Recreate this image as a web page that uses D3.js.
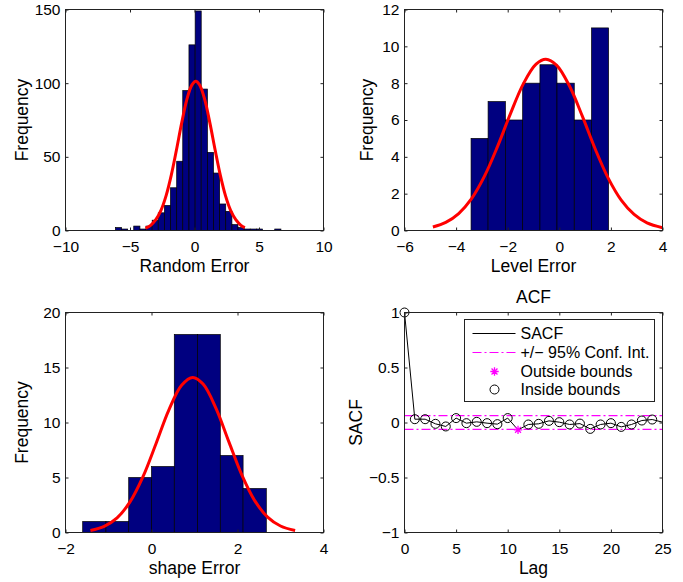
<!DOCTYPE html>
<html>
<head>
<meta charset="utf-8">
<script src="https://cdn.jsdelivr.net/npm/d3@7"></script>
<style>
body { margin: 0; background: #fff; }
svg text { font-family: "Liberation Sans", Arial, sans-serif; fill: #000; }
</style>
</head>
<body>
<div id="chart"></div>
<script>
// ---- data ----
var randomEdges = [-6.13, -5.66, -5.18, -4.71, -4.23, -3.76, -3.28, -2.81, -2.33, -1.86, -1.38, -0.91, -0.43, 0.05,
                   0.52, 1.00, 1.47, 1.95, 2.42, 2.90, 3.37, 3.85, 4.32, 4.80, 5.27, 5.75, 6.22, 6.70];
var randomCounts = [2, 1, 0, 3, 1, 3, 7, 12, 17, 29, 47, 95, 126, 149, 96, 53, 39, 18, 13, 4, 2, 1, 1, 1, 0, 0, 1];
var randomFitX = [-3.8, -3.4, -3.0, -2.6, -2.2, -1.8, -1.4, -1.0, -0.6, -0.2, 0.1, 0.4, 0.8, 1.2, 1.6, 2.0, 2.4, 2.8, 3.2, 3.6, 3.9];
var randomFitY = [1.6, 3.5, 7.3, 13.7, 23.7, 37.6, 54.6, 72.7, 88.6, 98.8, 101.3, 98.8, 88.6, 72.7, 54.6, 37.6, 23.7, 13.7, 7.3, 3.5, 1.9];

var levelEdges = [-3.42, -2.76, -2.09, -1.42, -0.75, -0.09, 0.58, 1.25, 1.91];
var levelCounts = [5, 7, 6, 8, 9, 8, 6, 11];
var levelFitX = [-4.9, -4.4, -3.9, -3.4, -2.9, -2.4, -1.9, -1.4, -0.9, -0.52, -0.1, 0.4, 0.9, 1.4, 1.9, 2.4, 2.9, 3.4, 4.0];
var levelFitY = [0.19, 0.44, 0.92, 1.73, 2.95, 4.54, 6.32, 7.95, 9.03, 9.3, 8.97, 7.83, 6.18, 4.40, 2.83, 1.65, 0.87, 0.41, 0.15];

var shapeEdges = [-1.60, -1.06, -0.53, 0.00, 0.53, 1.07, 1.60, 2.13, 2.67];
var shapeCounts = [1, 1, 5, 6, 18, 18, 7, 4];
var shapeFitX = [-1.42, -1.1, -0.8, -0.5, -0.2, 0.1, 0.4, 0.7, 0.96, 1.2, 1.5, 1.8, 2.1, 2.4, 2.7, 3.0, 3.34];
var shapeFitY = [0.19, 0.56, 1.33, 2.78, 5.05, 8.02, 11.10, 13.39, 14.1, 13.49, 11.29, 8.24, 5.24, 2.90, 1.40, 0.59, 0.19];

var acfLags = [0, 1, 2, 3, 4, 5, 6, 7, 8, 9, 10, 11, 12, 13, 14, 15, 16, 17, 18, 19, 20, 21, 22, 23, 24, 25];
var acfValues = [1, 0.03, 0.03, -0.012, -0.036, 0.04, -0.006, 0.006, -0.006, -0.015, 0.04, -0.067, -0.018, -0.012,
                 0.015, 0.003, -0.018, -0.01, -0.058, -0.018, -0.006, -0.04, -0.018, 0.018, 0.027, 0.003];
var acfMarkedLags = 24;   // markers drawn for lags 0..24
var confBound = 0.062;

var legendLabels = ["SACF", "+/\u2212 95% Conf. Int.", "Outside bounds", "Inside bounds"];

// ---- page ----
var W = 683, H = 582;
var navy = "#000080", red = "#ff0000", magenta = "#ff00ff";
var tickFont = "15.5px", labelFont = "17.5px";
var fmt = d3.format("~g"); // 1, 0.5, -1 like matlab

var svg = d3.select("#chart").append("svg")
    .attr("width", W)
    .attr("height", H);

// one set of axes, matlab style (box on, ticks inward on all 4 sides)
function makeAxes(box, xDom, yDom, xTicks, yTicks, xLabel, yLabel, yLabelOff) {
    var x = d3.scaleLinear().domain(xDom).range([box.l, box.r]);
    var y = d3.scaleLinear().domain(yDom).range([box.b, box.t]);
    var g = svg.append("g");
    var plot = g.append("g");
    var ax = g.append("g");

    ax.append("g")
        .attr("transform", "translate(0," + box.b + ")")
        .call(d3.axisBottom(x).tickValues(xTicks).tickFormat(fmt).tickSize(-3).tickSizeOuter(0).tickPadding(10));
    ax.append("g")
        .attr("transform", "translate(0," + box.t + ")")
        .call(d3.axisTop(x).tickValues(xTicks).tickSize(-3).tickSizeOuter(0).tickFormat(""));
    ax.append("g")
        .attr("transform", "translate(" + box.l + ",0)")
        .call(d3.axisLeft(y).tickValues(yTicks).tickFormat(fmt).tickSize(-3).tickSizeOuter(0).tickPadding(5));
    ax.append("g")
        .attr("transform", "translate(" + box.r + ",0)")
        .call(d3.axisRight(y).tickValues(yTicks).tickSize(-3).tickSizeOuter(0).tickFormat(""));

    ax.selectAll(".domain").remove();
    ax.selectAll(".tick line").attr("stroke", "#222");
    ax.selectAll(".tick text")
        .style("font-size", tickFont)
        .style("font-family", "'Liberation Sans', Arial, sans-serif");

    ax.append("rect")
        .attr("x", box.l).attr("y", box.t)
        .attr("width", box.r - box.l).attr("height", box.b - box.t)
        .attr("fill", "none")
        .attr("stroke", "#222")
        .attr("stroke-width", 1);

    g.append("text")
        .attr("x", (box.l + box.r) / 2)
        .attr("y", box.b + 41)
        .attr("text-anchor", "middle")
        .style("font-size", labelFont)
        .text(xLabel);

    g.append("text")
        .attr("transform", "translate(" + (box.l - yLabelOff) + "," + ((box.t + box.b) / 2) + ") rotate(-90)")
        .attr("text-anchor", "middle")
        .style("font-size", labelFont)
        .text(yLabel);

    return { x: x, y: y, plot: plot, g: g };
}

function drawHist(a, edges, counts, fitX, fitY) {
    var bins = counts.map(function (c, i) { return { x0: edges[i], x1: edges[i + 1], n: c }; })
        .filter(function (d) { return d.n > 0; });

    a.plot.selectAll("rect.bar")
        .data(bins)
        .enter()
        .append("rect")
        .attr("class", "bar")
        .attr("x", function (d) { return a.x(d.x0); })
        .attr("y", function (d) { return a.y(d.n); })
        .attr("width", function (d) { return a.x(d.x1) - a.x(d.x0); })
        .attr("height", function (d) { return a.y(0) - a.y(d.n); })
        .attr("fill", navy)
        .attr("stroke", "#000")
        .attr("stroke-width", 0.7);

    var pts = fitX.map(function (v, i) { return [v, fitY[i]]; });
    var line = d3.line()
        .x(function (d) { return a.x(d[0]); })
        .y(function (d) { return a.y(d[1]); })
        .curve(d3.curveCatmullRom.alpha(0.5));

    a.plot.append("path")
        .datum(pts)
        .attr("d", line)
        .attr("fill", "none")
        .attr("stroke", red)
        .attr("stroke-width", 3)
        .attr("stroke-linejoin", "round");
}

// top left
var a1 = makeAxes({ l: 65.5, r: 323.5, t: 9.5, b: 230.5 }, [-10, 10], [0, 150],
    [-10, -5, 0, 5, 10], [0, 50, 100, 150], "Random Error", "Frequency", 38);
drawHist(a1, randomEdges, randomCounts, randomFitX, randomFitY);

// top right
var a2 = makeAxes({ l: 404.5, r: 662.5, t: 9.5, b: 230.5 }, [-6, 4], [0, 12],
    [-6, -4, -2, 0, 2, 4], [0, 2, 4, 6, 8, 10, 12], "Level Error", "Frequency", 32);
drawHist(a2, levelEdges, levelCounts, levelFitX, levelFitY);

// bottom left
var a3 = makeAxes({ l: 65.5, r: 323.5, t: 312.5, b: 532.5 }, [-2, 4], [0, 20],
    [-2, 0, 2, 4], [0, 5, 10, 15, 20], "shape Error", "Frequency", 38);
drawHist(a3, shapeEdges, shapeCounts, shapeFitX, shapeFitY);

// bottom right: ACF
var a4 = makeAxes({ l: 404.5, r: 662.5, t: 312.5, b: 532.5 }, [0, 25], [-1, 1],
    [0, 5, 10, 15, 20, 25], [-1, -0.5, 0, 0.5, 1], "Lag", "SACF", 43);

a4.g.append("text")
    .attr("x", (a4.x.range()[0] + a4.x.range()[1]) / 2)
    .attr("y", 303)
    .attr("text-anchor", "middle")
    .style("font-size", labelFont)
    .text("ACF");

[confBound, -confBound].forEach(function (b) {
    a4.plot.append("line")
        .attr("x1", a4.x(0)).attr("x2", a4.x(25))
        .attr("y1", a4.y(b)).attr("y2", a4.y(b))
        .attr("stroke", magenta)
        .attr("stroke-width", 1.2)
        .attr("stroke-dasharray", "9,3,2,3");
});

var acf = acfLags.map(function (l, i) { return { lag: l, v: acfValues[i] }; });

a4.plot.append("path")
    .datum(acf)
    .attr("d", d3.line().x(function (d) { return a4.x(d.lag); }).y(function (d) { return a4.y(d.v); }))
    .attr("fill", "none")
    .attr("stroke", "#000")
    .attr("stroke-width", 1);

// asterisk marker (+ and x together)
var starType = {
    draw: function (ctx, size) {
        var r = Math.sqrt(size) / 2, q = r * 0.7071;
        ctx.moveTo(-r, 0); ctx.lineTo(r, 0);
        ctx.moveTo(0, -r); ctx.lineTo(0, r);
        ctx.moveTo(-q, -q); ctx.lineTo(q, q);
        ctx.moveTo(-q, q); ctx.lineTo(q, -q);
    }
};

var marked = acf.filter(function (d) { return d.lag <= acfMarkedLags; });
var outside = marked.filter(function (d) { return Math.abs(d.v) > confBound && d.lag > 0; });
var inside = marked.filter(function (d) { return !(Math.abs(d.v) > confBound && d.lag > 0); });

a4.plot.selectAll("circle.in")
    .data(inside)
    .enter()
    .append("circle")
    .attr("class", "in")
    .attr("cx", function (d) { return a4.x(d.lag); })
    .attr("cy", function (d) { return a4.y(d.v); })
    .attr("r", 4.5)
    .attr("fill", "none")
    .attr("stroke", "#000")
    .attr("stroke-width", 1);

a4.plot.selectAll("path.out")
    .data(outside)
    .enter()
    .append("path")
    .attr("class", "out")
    .attr("transform", function (d) { return "translate(" + a4.x(d.lag) + "," + a4.y(d.v) + ")"; })
    .attr("d", d3.symbol().type(starType).size(70))
    .attr("fill", "none")
    .attr("stroke", magenta)
    .attr("stroke-width", 1.3);

// legend
var lg = a4.g.append("g").attr("transform", "translate(464.5,319.5)");
lg.append("rect")
    .attr("width", 190).attr("height", 82)
    .attr("fill", "#fff")
    .attr("stroke", "#222")
    .attr("stroke-width", 1);

var rowY = [14, 33, 52, 70];
lg.append("line").attr("x1", 8).attr("x2", 51).attr("y1", rowY[0]).attr("y2", rowY[0])
    .attr("stroke", "#000").attr("stroke-width", 1);
lg.append("line").attr("x1", 8).attr("x2", 51).attr("y1", rowY[1]).attr("y2", rowY[1])
    .attr("stroke", magenta).attr("stroke-width", 1.2).attr("stroke-dasharray", "9,3,2,3");
lg.append("path")
    .attr("transform", "translate(30," + rowY[2] + ")")
    .attr("d", d3.symbol().type(starType).size(70))
    .attr("fill", "none").attr("stroke", magenta).attr("stroke-width", 1.3);
lg.append("circle")
    .attr("cx", 30).attr("cy", rowY[3]).attr("r", 4.5)
    .attr("fill", "none").attr("stroke", "#000").attr("stroke-width", 1);

lg.selectAll("text.lab")
    .data(legendLabels)
    .enter()
    .append("text")
    .attr("class", "lab")
    .attr("x", 56)
    .attr("y", function (d, i) { return rowY[i]; })
    .attr("dy", "0.35em")
    .style("font-size", "16px")
    .text(function (d) { return d; });
</script>
</body>
</html>
